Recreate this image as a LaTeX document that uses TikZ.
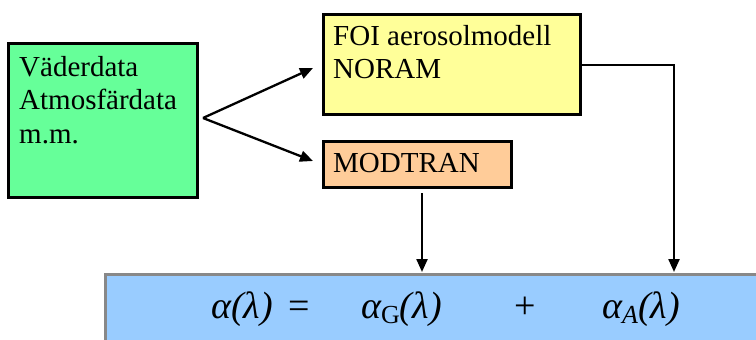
\documentclass[tikz,border=0pt]{standalone}
\usepackage{fontspec}
\setmainfont{Liberation Serif}
\usetikzlibrary{arrows.meta}
\definecolor{cgreen}{HTML}{66FF99}
\definecolor{cyellow}{HTML}{FFFF99}
\definecolor{corange}{HTML}{FFCC99}
\definecolor{cblue}{HTML}{99CCFF}
\definecolor{cgray}{HTML}{888888}
\begin{document}
\begin{tikzpicture}[x=1pt,y=-1pt,
  boxst/.style={draw=black, line width=2.6pt, anchor=north west, inner sep=0pt},
  lbl/.style={anchor=north west, inner sep=0pt, align=left, font=\fontsize{29}{33.5}\selectfont},
  eqt/.style={anchor=base west, inner sep=0pt, font=\fontsize{38}{40}\selectfont},
  arr/.style={line width=2.3pt, -{Triangle[length=13pt,width=11pt]}}]
\useasboundingbox (0,0) rectangle (756,340);
\clip (0,0) rectangle (756,340);
% boxes
\node[boxst, fill=cgreen, minimum width=189pt, minimum height=154pt] (green) at (7,42) {};
\node[boxst, fill=cyellow, minimum width=257pt, minimum height=100pt] (yellow) at (322,13) {};
\node[boxst, fill=corange, minimum width=188pt, minimum height=46pt] (orange) at (322,140) {};
\node[boxst, draw=cgray, fill=cblue, minimum width=700pt, minimum height=90pt] (eq) at (104,273) {};
% texts
\node[lbl] (tgreen) at (19,56) {Väderdata\\Atmosfärdata\\m.m.};
\node[lbl] (tyellow) at (333,25) {FOI aerosolmodell\\NORAM};
\node[lbl] (torange) at (333,153.5) {MODTRAN};
\node[eqt] (e1) at (211,318) {\itshape α(λ)};
\node[eqt] (e2) at (288,318) {=};
\node[eqt] (e3) at (361,318) {\itshape α\raisebox{-5pt}{\upshape\fontsize{26}{26}\selectfont G}(λ)};
\node[eqt] (e4) at (514,318) {+};
\node[eqt] (e5) at (602,318) {\itshape α\raisebox{-5pt}{\fontsize{26}{26}\selectfont A}(λ)};
% connectors
\coordinate (j) at (203,118);
\coordinate (t1) at (313,68);
\coordinate (t2) at (313,161);
\coordinate (m1) at (422,193);
\coordinate (m2) at (422,272);
\coordinate (y1) at (579,65);
\coordinate (y2) at (674,272);
\draw[arr] (j) -- (t1);
\draw[arr] (j) -- (t2);
\draw[arr] (m1) -- (m2);
\draw[arr] (y1) -| (y2);
\end{tikzpicture}
\end{document}
